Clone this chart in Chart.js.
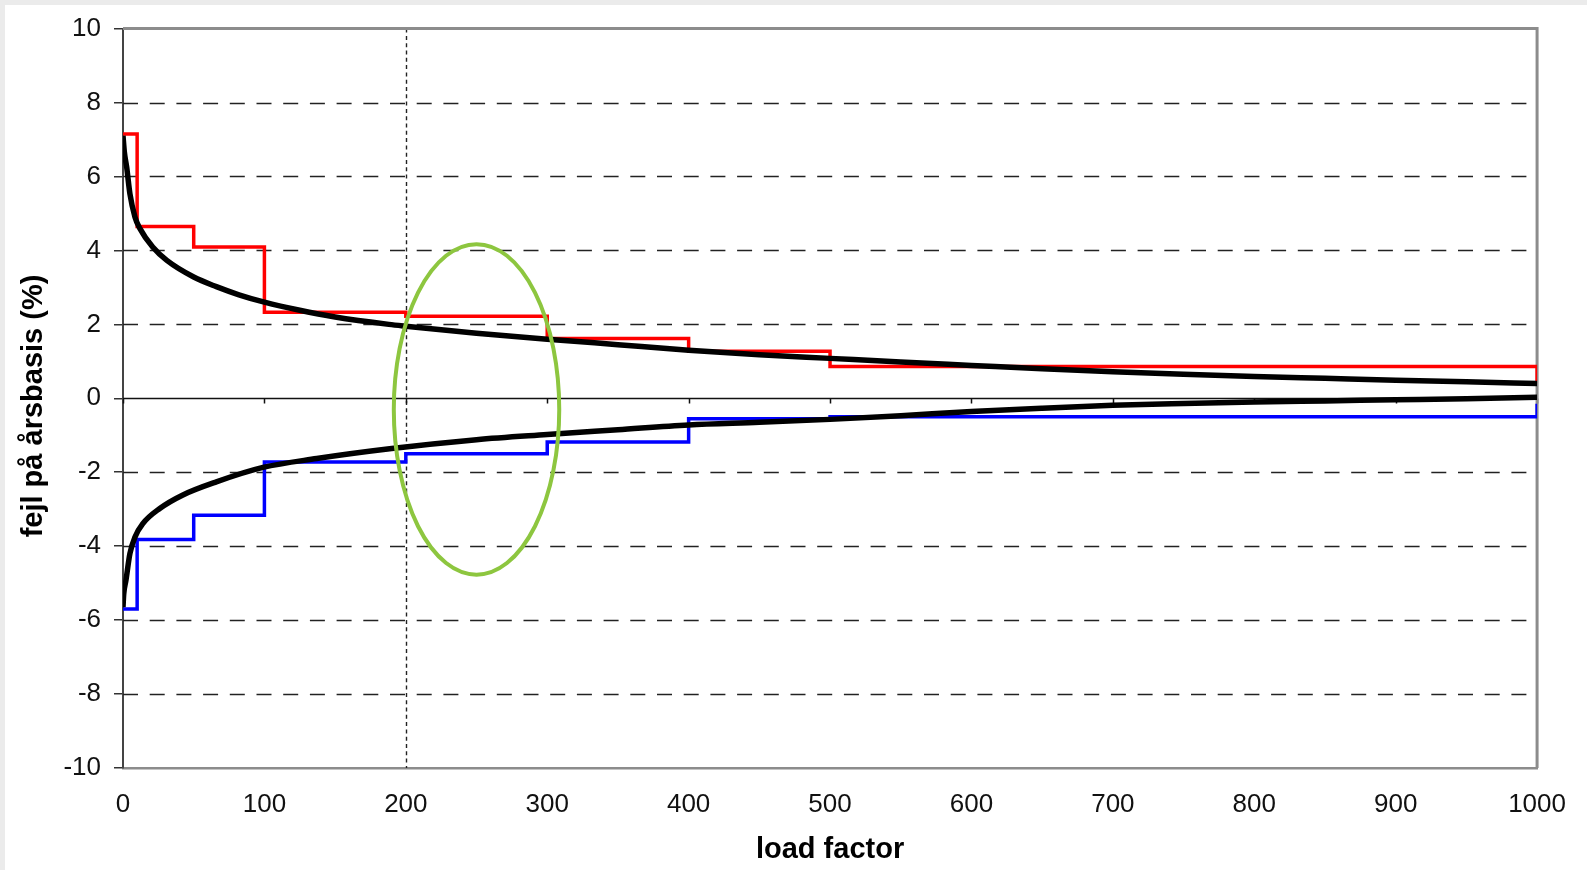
<!DOCTYPE html>
<html>
<head>
<meta charset="utf-8">
<script src="https://cdn.jsdelivr.net/npm/chart.js@4/dist/chart.umd.min.js"></script>
<style>
  html, body { margin: 0; padding: 0; background: #fff; }
  #wrap { width: 1587px; height: 870px; position: relative; }
</style>
</head>
<body>
<div id="wrap"><canvas id="chart"></canvas></div>
<script>
// axis ticks
const xTicks = [0, 100, 200, 300, 400, 500, 600, 700, 800, 900, 1000];
const yTicks = [-10, -8, -6, -4, -2, 0, 2, 4, 6, 8, 10];

// smooth model curves (black)
const upperCurveX = [0, 1, 2.6, 4.9, 8.5, 12, 21, 31, 50, 66, 82, 100, 125, 150, 188, 200, 250, 300, 350, 400, 450, 500, 550, 600, 650, 700, 750, 800, 850, 900, 950, 1000];
const upperCurveY = [7.1, 6.65, 6.25, 5.53, 4.9, 4.59, 4.09, 3.73, 3.28, 3.02, 2.8, 2.6, 2.38, 2.2, 2.0, 1.95, 1.76, 1.6, 1.45, 1.3, 1.18, 1.08, 0.98, 0.89, 0.8, 0.72, 0.65, 0.59, 0.54, 0.49, 0.45, 0.4];
const lowerCurveX = [0, 0.5, 2.1, 4.9, 8.5, 14, 26, 42, 66, 99, 137, 190, 250, 300, 350, 400, 450, 500, 550, 600, 650, 700, 750, 800, 850, 900, 950, 1000];
const lowerCurveY = [-5.65, -5.3, -4.92, -4.2, -3.75, -3.39, -2.98, -2.62, -2.26, -1.87, -1.63, -1.36, -1.12, -0.98, -0.85, -0.72, -0.65, -0.57, -0.47, -0.36, -0.27, -0.19, -0.14, -0.1, -0.07, -0.04, -0.01, 0.03];

// measured step series
const upperStepX = [0, 10, 50, 100, 200, 300, 400, 500, 1000, 1000];
const upperStepY = [7.15, 4.65, 4.09, 2.33, 2.22, 1.62, 1.27, 0.86, 0.86, 0.41];
const lowerStepX = [0, 10, 50, 100, 200, 300, 400, 500, 1000, 1000];
const lowerStepY = [-5.7, -3.82, -3.16, -1.72, -1.5, -1.18, -0.55, -0.5, -0.5, -0.15];

// annotations
const markerX = 200;
const highlight = { x: 250, y: -0.3, rx: 58.5, ry: 4.47 };

const pts = (xs, ys) => xs.map((x, i) => ({ x, y: ys[i] }));

Chart.defaults.font.family = "'Liberation Sans', Arial, sans-serif";
Chart.defaults.color = "#111";

const decor = {
    id: "decor",
    beforeDraw(chart) {
        const { ctx, width, height } = chart;
        ctx.save();
        ctx.fillStyle = "#ebebeb";
        ctx.fillRect(0, 0, width, height);
        ctx.fillStyle = "#ffffff";
        ctx.fillRect(5, 5, width - 5, height - 5);
        ctx.restore();
    },
    beforeDatasetsDraw(chart) {
        const { ctx, chartArea: a } = chart;
        const xs = chart.scales.x;
        const ys = chart.scales.y;
        ctx.save();
        // dashed horizontal grid
        ctx.strokeStyle = "#222";
        ctx.lineWidth = 1.4;
        ctx.setLineDash([15, 11.7]);
        yTicks.forEach((v) => {
            if (v === 0 || v === yTicks[0] || v === yTicks[yTicks.length - 1]) return;
            const py = Math.round(ys.getPixelForValue(v)) + 0.5;
            ctx.beginPath();
            ctx.moveTo(a.left, py);
            ctx.lineTo(a.right, py);
            ctx.stroke();
        });
        // dotted vertical marker
        ctx.setLineDash([4, 3.3]);
        ctx.lineWidth = 1.4;
        const mx = Math.round(xs.getPixelForValue(markerX)) + 0.5;
        ctx.beginPath();
        ctx.moveTo(mx, a.top);
        ctx.lineTo(mx, a.bottom);
        ctx.stroke();
        // zero line with ticks
        ctx.setLineDash([]);
        ctx.strokeStyle = "#111";
        ctx.lineWidth = 1.5;
        const zy = Math.round(ys.getPixelForValue(0)) + 0.5;
        ctx.beginPath();
        ctx.moveTo(a.left, zy);
        ctx.lineTo(a.right, zy);
        xTicks.forEach((v) => {
            const px = Math.round(xs.getPixelForValue(v)) + 0.5;
            ctx.moveTo(px, zy);
            ctx.lineTo(px, zy + 5);
        });
        ctx.stroke();
        // top and right frame
        ctx.strokeStyle = "#8c8c8c";
        ctx.lineWidth = 3;
        ctx.beginPath();
        ctx.moveTo(a.left, a.top);
        ctx.lineTo(a.right, a.top);
        ctx.lineTo(a.right, a.bottom);
        ctx.stroke();
        ctx.restore();
    },
    afterDatasetsDraw(chart) {
        const { ctx } = chart;
        const xs = chart.scales.x;
        const ys = chart.scales.y;
        const cx = xs.getPixelForValue(highlight.x);
        const cy = ys.getPixelForValue(highlight.y);
        const rx = Math.abs(xs.getPixelForValue(highlight.x + highlight.rx) - cx);
        const ry = Math.abs(ys.getPixelForValue(highlight.y + highlight.ry) - cy);
        ctx.save();
        ctx.strokeStyle = "#8dc63f";
        ctx.lineWidth = 4;
        ctx.beginPath();
        ctx.ellipse(cx, cy, rx, ry, 0, 0, Math.PI * 2);
        ctx.stroke();
        ctx.restore();
    },
    afterDraw(chart) {
        const { ctx } = chart;
        ctx.save();
        ctx.translate(34, 406);
        ctx.rotate(-Math.PI / 2);
        ctx.fillStyle = "#000";
        ctx.font = "bold 29px 'Liberation Sans', Arial, sans-serif";
        ctx.textAlign = "center";
        ctx.textBaseline = "middle";
        ctx.fillText("fejl på årsbasis (%)", 0, 0);
        ctx.restore();
    },
};

new Chart(document.getElementById("chart"), {
    type: "line",
    data: {
        datasets: [
            {
                data: pts(upperCurveX, upperCurveY),
                borderColor: "#000",
                borderWidth: 5.5,
                cubicInterpolationMode: "monotone",
                pointRadius: 0,
            },
            {
                data: pts(lowerCurveX, lowerCurveY),
                borderColor: "#000",
                borderWidth: 5.5,
                cubicInterpolationMode: "monotone",
                pointRadius: 0,
            },
            {
                data: pts(upperStepX, upperStepY),
                borderColor: "#ff0000",
                borderWidth: 3.5,
                stepped: true,
                pointRadius: 0,
            },
            {
                data: pts(lowerStepX, lowerStepY),
                borderColor: "#0000ff",
                borderWidth: 3.5,
                stepped: true,
                pointRadius: 0,
            },
        ],
    },
    options: {
        responsive: true,
        maintainAspectRatio: false,
        animation: false,
        layout: {
            padding: { top: 28, right: 46, left: 0, bottom: 0 },
        },
        plugins: {
            legend: { display: false },
            tooltip: { enabled: false },
        },
        scales: {
            x: {
                type: "linear",
                min: 0,
                max: 1000,
                afterBuildTicks: (s) => {
                    s.ticks = xTicks.map((v) => ({ value: v }));
                },
                afterFit: (s) => {
                    s.height = 102;
                },
                grid: { display: false, drawTicks: false },
                border: { color: "#8c8c8c", width: 2.5 },
                ticks: {
                    padding: 21,
                    color: "#111",
                    font: { size: 26 },
                    maxRotation: 0,
                    callback: (v) => String(v),
                },
                title: {
                    display: true,
                    text: "load factor",
                    color: "#000",
                    font: { size: 29, weight: "bold" },
                    padding: { top: 0, bottom: 3 },
                },
            },
            y: {
                min: -10,
                max: 10,
                afterBuildTicks: (s) => {
                    s.ticks = yTicks.map((v) => ({ value: v }));
                },
                afterFit: (s) => {
                    s.width = 123;
                },
                grid: {
                    drawOnChartArea: false,
                    drawTicks: true,
                    tickLength: 9,
                    color: "#333",
                    lineWidth: 1.5,
                },
                border: { color: "#444", width: 2 },
                ticks: {
                    padding: 13,
                    color: "#111",
                    font: { size: 26 },
                    callback: (v) => String(v),
                },
            },
        },
    },
    plugins: [decor],
});
</script>
</body>
</html>
